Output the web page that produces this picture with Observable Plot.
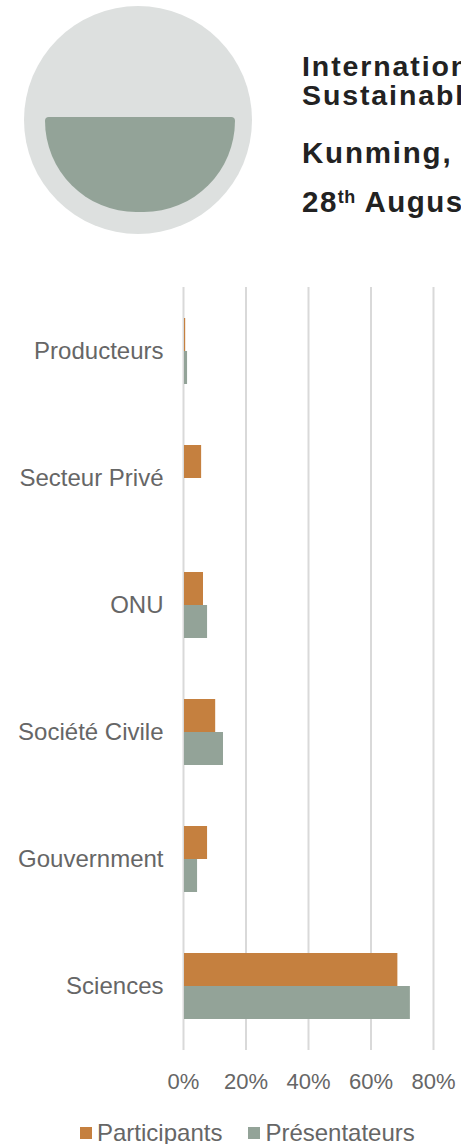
<!DOCTYPE html>
<html>
<head>
<meta charset="utf-8">
<script src="https://cdn.jsdelivr.net/npm/d3@7"></script>
<script src="https://cdn.jsdelivr.net/npm/@observablehq/plot@0.6"></script>
<style>
  html, body { margin: 0; padding: 0; background: #ffffff; }
  body { position: relative; width: 461px; height: 1144px; overflow: hidden; font-family: "Liberation Sans", Arial, sans-serif; }
  .logo-outer { position: absolute; left: 24px; top: 6px; width: 228px; height: 228px; border-radius: 50%; background: #dde0df; }
  .logo-inner { position: absolute; left: 45px; top: 117px; width: 190px; height: 95px; background: #93a398;
    border-radius: 4px 4px 95px 95px / 4px 4px 95px 95px; }
  .title { position: absolute; left: 302px; white-space: nowrap; font-weight: bold; color: #222222; }
  .t1 { top: 52px; font-size: 28.5px; line-height: 28.5px; letter-spacing: 1.9px; }
  .t2 { top: 81px; font-size: 28.5px; line-height: 28.5px; letter-spacing: 1.9px; }
  .t3 { top: 138px; font-size: 29.5px; line-height: 29.5px; letter-spacing: 1.8px; }
  .t4 { top: 187px; font-size: 29.5px; line-height: 29.5px; letter-spacing: 1.5px; }
  .t4 sup { font-size: 18px; vertical-align: 9px; line-height: 0; letter-spacing: 0.5px; }
  #chart { position: absolute; left: 0; top: 240px; }
  #legend { position: absolute; left: 80px; top: 1116px; }
  #legend .lg-swatch > svg { margin-right: 5px !important; }
  #legend .lg-swatch { margin-right: 26px !important; }
</style>
</head>
<body>
<div class="logo-outer"></div>
<div class="logo-inner"></div>
<div class="title t1">International Conference on</div>
<div class="title t2">Sustainable Development</div>
<div class="title t3">Kunming, China</div>
<div class="title t4">28<sup>th</sup> August 2019</div>
<div id="chart"></div>
<div id="legend"></div>
<script>
// ---- data ----
const categories = ["Producteurs", "Secteur Privé", "ONU", "Société Civile", "Gouvernment", "Sciences"];
const seriesNames = ["Participants", "Présentateurs"];
const participants = [0.007, 0.058, 0.064, 0.103, 0.077, 0.686];
const presentateurs = [0.013, 0.0, 0.077, 0.128, 0.045, 0.726];
const xTicks = [0, 0.2, 0.4, 0.6, 0.8];
const seriesColors = ["#c5803f", "#93a398"];

const rowsParticipants = categories.map((c, i) => ({category: c, series: seriesNames[0], value: participants[i]}));
const rowsPresentateurs = categories.map((c, i) => ({category: c, series: seriesNames[1], value: presentateurs[i]}));

const pct = d3.format(".0%");
const textColor = "#666666";

const chart = Plot.plot({
  width: 461,
  height: 860,
  marginTop: 47,
  marginBottom: 50,
  marginLeft: 183,
  marginRight: 28,
  style: {fontFamily: "'Liberation Sans', Arial, sans-serif", fontSize: "24px", color: textColor, background: "#ffffff"},
  x: {domain: [0, 0.8], axis: null, label: null},
  y: {domain: categories, paddingInner: 0.481, paddingOuter: 0.2405, axis: null, label: null},
  color: {domain: seriesNames, range: seriesColors},
  marks: [
    Plot.gridX(xTicks, {stroke: "#d9d9d9", strokeOpacity: 1, strokeWidth: 2}),
    Plot.barX(rowsParticipants, {x: "value", y: "category", fill: "series", insetBottom: 33, insetLeft: 1}),
    Plot.barX(rowsPresentateurs, {x: "value", y: "category", fill: "series", insetTop: 33, insetLeft: 1}),
    Plot.axisX(xTicks, {tickSize: 0, tickPadding: 23, tickFormat: pct, fontSize: 22, fill: textColor, label: null}),
    Plot.axisY(categories, {tickSize: 0, tickPadding: 20, fontSize: 24, fill: textColor, label: null})
  ]
});
document.getElementById("chart").appendChild(chart);

const legend = Plot.legend({
  color: {domain: seriesNames, range: seriesColors},
  swatchSize: 12,
  className: "lg",
  style: {fontFamily: "'Liberation Sans', Arial, sans-serif", fontSize: "24px", lineHeight: "28px", color: textColor, margin: "0"}
});
document.getElementById("legend").appendChild(legend);
</script>
</body>
</html>
